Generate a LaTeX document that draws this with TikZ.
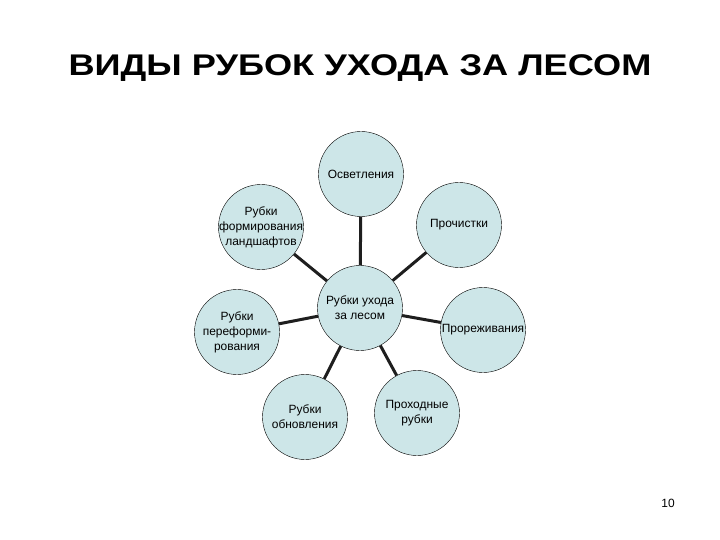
\documentclass[tikz,border=0pt]{standalone}
\usepackage{fontspec}
\setmainfont{Liberation Sans}
\usepackage{tikz}
\usetikzlibrary{positioning}
\definecolor{circfill}{RGB}{205,230,232}
\definecolor{spoke}{RGB}{30,30,30}
\tikzset{
	kind/.style={circle, draw=black, thin, fill=circfill, minimum size=85bp, inner sep=0pt},
	txt/.style={align=center, font=\fontsize{12}{15}\selectfont, inner sep=0pt},
	link/.style={draw=spoke, line width=3bp}
}

\begin{document}
\begin{tikzpicture}[x=1bp, y=-1bp]
	\useasboundingbox (0,0) rectangle (720,540);
	\node[font=\fontsize{30}{34}\bfseries\selectfont, xscale=1.21, anchor=base] (title) at (360,76) {ВИДЫ РУБОК УХОДА ЗА ЛЕСОМ};
	\node[kind, label={[txt]center:Рубки ухода\\за лесом}] (cut) at (360,308) {};
	\node[kind, label={[txt]center:Осветления}] (light) at (361,174) {};
	\node[kind, label={[txt]center:Прочистки}] (clean) at (459,225) {};
	\node[kind, label={[txt]center:Прореживания}] (thin) at (483,330) {};
	\node[kind, label={[txt]center:Проходные\\рубки}] (pass) at (417,413) {};
	\node[kind, label={[txt]center:Рубки\\обновления}] (renew) at (305,417) {};
	\node[kind, label={[txt]center:Рубки\\переформи-\\рования}] (reform) at (237,332) {};
	\node[kind, label={[txt]center:Рубки\\формирования\\ландшафтов}] (land) at (261,227) {};
	\draw[link] (cut) -- (light);
	\draw[link] (cut) -- (clean);
	\draw[link] (cut) -- (thin);
	\draw[link] (cut) -- (pass);
	\draw[link] (cut) -- (renew);
	\draw[link] (cut) -- (reform);
	\draw[link] (cut) -- (land);
	\node[font=\fontsize{12}{14}\selectfont] (page) at (668,503) {10};
\end{tikzpicture}
\end{document}
